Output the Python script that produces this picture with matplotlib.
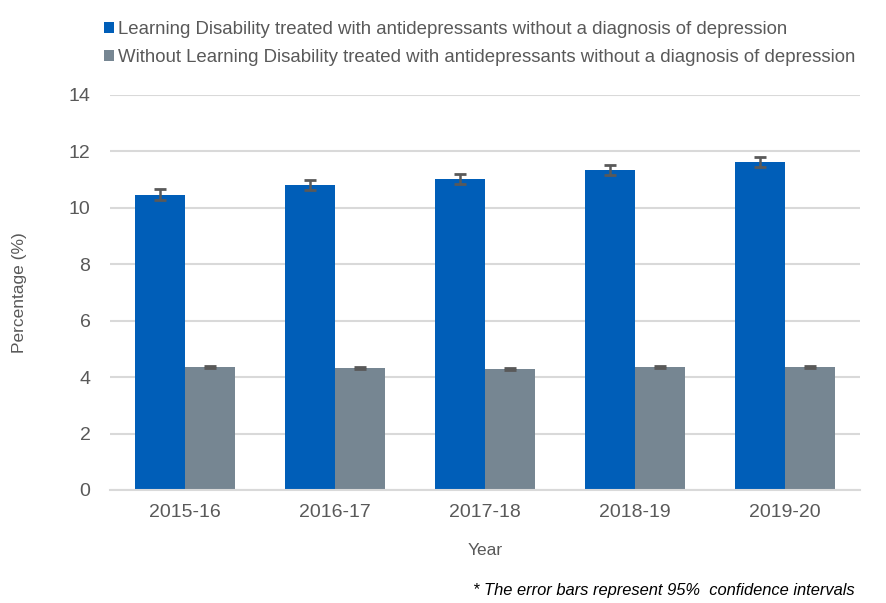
import matplotlib
matplotlib.use("Agg")
import matplotlib.pyplot as plt
import numpy as np
from matplotlib.patches import Patch

plt.rcParams['font.family'] = ['Liberation Sans', 'DejaVu Sans']

years = ["2015-16", "2016-17", "2017-18", "2018-19", "2019-20"]
ld_values = [10.46, 10.81, 11.02, 11.34, 11.63]
ld_err = [0.19, 0.19, 0.18, 0.18, 0.18]
nold_values = [4.36, 4.32, 4.29, 4.36, 4.36]
nold_err = [0.03, 0.03, 0.03, 0.03, 0.03]
labels = ["Learning Disability treated with antidepressants without a diagnosis of depression",
          "Without Learning Disability treated with antidepressants without a diagnosis of depression"]

blue = "#005EB8"
grey = "#768692"
txt = "#595959"

fig = plt.figure(figsize=(8.86, 6.03), dpi=100)
ax = fig.add_axes([0.124, 0.1874, 0.847, 0.6551])

x = np.arange(len(years))
w = 1/3
ekw = dict(ecolor="#595959", elinewidth=1.8, capsize=4, capthick=2)
ax.bar(x - w/2, ld_values, w, color=blue, yerr=ld_err, error_kw=ekw, label=labels[0], zorder=2)
ax.bar(x + w/2, nold_values, w, color=grey, yerr=nold_err, error_kw=ekw, label=labels[1], zorder=2)

ax.set_xlim(-0.5, 4.5)
ax.set_ylim(0, 14)
ax.set_yticks(range(0, 15, 2))
ax.set_xticks(x)
ax.set_xticklabels(years)
ax.yaxis.grid(True, color="#d9d9d9", linewidth=1.5, zorder=0)
ax.set_axisbelow(True)
for s in ["top", "right", "left"]:
    ax.spines[s].set_visible(False)
ax.spines["bottom"].set_color("#d9d9d9")
ax.spines["bottom"].set_linewidth(1.5)
ax.tick_params(axis="both", length=0, labelsize=14, colors=txt, pad=10)
ax.tick_params(axis="y", pad=14)
ax.set_ylabel("Percentage (%)", fontsize=12.5, color=txt, labelpad=30)
ax.set_xlabel("Year", fontsize=12.5, color=txt, labelpad=16)

handles = [Patch(facecolor=blue), Patch(facecolor=grey)]
fig.legend(handles, labels, loc="upper left", bbox_to_anchor=(0.109, 0.978), frameon=False,
           fontsize=13.4, handlelength=0.55, handleheight=0.55, handletextpad=0.22,
           labelspacing=0.62, labelcolor=txt, borderaxespad=0)

fig.text(0.965, 0.008, "* The error bars represent 95%  confidence intervals", ha="right", va="bottom",
         fontsize=11.9, style="italic", color="#000000")

fig.savefig("out.png", dpi=100)
